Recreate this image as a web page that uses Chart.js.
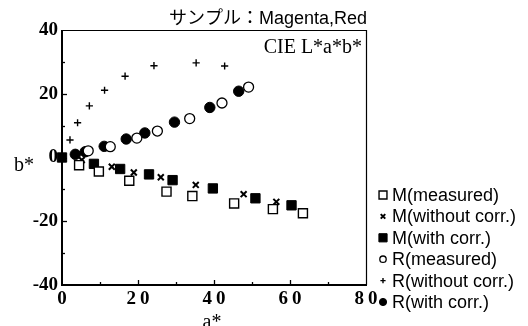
<!DOCTYPE html>
<html lang="ja">
<head>
<meta charset="UTF-8">
<title>CIE L*a*b* - Magenta, Red</title>
<script src="https://cdn.jsdelivr.net/npm/chart.js@4"></script>
<style>
  html, body { margin: 0; padding: 0; background: #fff; }
  #wrap { width: 528px; height: 326px; }
</style>
</head>
<body>
<div id="wrap"><canvas id="chart" width="528" height="326"></canvas></div>
<script>
// values (a*, b*)
const mMeasuredA = [4.5, 9.7, 17.7, 27.5, 34.3, 45.3, 55.5, 63.4];
const mMeasuredB = [-2.4, -4.4, -7.3, -10.7, -12.1, -14.4, -16.2, -17.5];
const mWithoutA = [5.2, 13.1, 18.9, 26.0, 35.2, 47.8, 56.4];
const mWithoutB = [-0.8, -2.9, -4.7, -6.2, -8.6, -11.5, -13.9];
const mWithA = [0, 8.4, 15.3, 22.9, 29.1, 39.7, 50.9, 60.4];
const mWithB = [0, -2.0, -3.6, -5.3, -7.1, -9.7, -12.8, -15.0];
const rMeasuredA = [6.9, 12.7, 19.7, 25.1, 33.6, 42.1, 49.1];
const rMeasuredB = [2.1, 3.4, 6.1, 8.3, 12.2, 17.1, 22.1];
const rWithoutA = [2.1, 4.1, 7.2, 11.2, 16.6, 24.2, 35.3, 42.8];
const rWithoutB = [5.5, 10.9, 16.2, 21.1, 25.5, 28.8, 29.7, 28.7];
const rWithA = [3.5, 6.1, 11.1, 16.9, 21.8, 29.6, 38.9, 46.5];
const rWithB = [1.0, 1.8, 3.5, 5.8, 7.7, 11.1, 15.7, 20.8];

const seriesNames = ['M(measured)', 'M(without corr.)', 'M(with corr.)', 'R(measured)', 'R(without corr.)', 'R(with corr.)'];
const xTicks = [0, 20, 40, 60, 80];
const yTicks = [-40, -20, 0, 20, 40];
const titleText = 'サンプル：Magenta,Red';
const spaceText = 'CIE L*a*b*';

const pts = (a, b) => a.map((v, i) => ({ x: v, y: b[i] }));

// marker look: [pointStyle, radius, fill, borderWidth, legend radius]
const looks = [
  ['rect', 6.4, '#fff', 1.4, 5.6],
  ['crossRot', 4.2, '#000', 2, 3.2],
  ['rect', 6.6, '#000', 1, 5.8],
  ['circle', 5, '#fff', 1.3, 3.2],
  ['cross', 3.6, '#000', 1.4, 2.6],
  ['circle', 5.2, '#000', 1, 3.6]
];
const allData = [
  pts(mMeasuredA, mMeasuredB), pts(mWithoutA, mWithoutB), pts(mWithA, mWithB),
  pts(rMeasuredA, rMeasuredB), pts(rWithoutA, rWithoutB), pts(rWithA, rWithB)
];

const datasets = seriesNames.map((name, i) => ({
  label: name,
  data: allData[i],
  pointStyle: looks[i][0],
  pointRadius: looks[i][1],
  pointBackgroundColor: looks[i][2],
  pointBorderColor: '#000',
  pointBorderWidth: looks[i][3],
  showLine: false,
  clip: false
}));

const L = 62, R = 366, T = 30, B = 285;

const decor = {
  id: 'decor',
  afterDraw(chart) {
    const ctx = chart.ctx;
    const xs = chart.scales.x, ys = chart.scales.y;
    ctx.save();
    ctx.strokeStyle = '#000';
    // frame
    ctx.lineWidth = 1.2;
    ctx.beginPath();
    ctx.moveTo(L, T + 0.5); ctx.lineTo(R + 0.5, T + 0.5); ctx.lineTo(R + 0.5, B);
    ctx.stroke();
    ctx.lineWidth = 2;
    ctx.beginPath();
    ctx.moveTo(L, T); ctx.lineTo(L, B); ctx.lineTo(R + 1, B);
    ctx.stroke();
    // inward ticks every 10
    ctx.lineWidth = 1.3;
    for (let v = 10; v < 80; v += 10) {
      const px = Math.round(xs.getPixelForValue(v)) + 0.5;
      const len = v % 20 === 0 ? 5 : 3;
      ctx.beginPath(); ctx.moveTo(px, B); ctx.lineTo(px, B - len); ctx.stroke();
    }
    for (let v = -30; v < 40; v += 10) {
      const py = Math.round(ys.getPixelForValue(v)) + 0.5;
      const len = v % 20 === 0 ? 5 : 3;
      ctx.beginPath(); ctx.moveTo(L, py); ctx.lineTo(L + len, py); ctx.stroke();
    }
    // texts
    ctx.fillStyle = '#000';
    ctx.textAlign = 'right';
    ctx.textBaseline = 'middle';
    ctx.font = '18px "Liberation Sans", "Noto Sans CJK JP", sans-serif';
    ctx.fillText(titleText, 367, 19);
    ctx.font = '20px "Liberation Serif", serif';
    ctx.fillText(spaceText, 362, 48);
    ctx.textAlign = 'center';
    ctx.fillText('b*', 24, 166);
    ctx.textBaseline = 'alphabetic';
    ctx.fillText('a*', 212, 328);
    // legend
    ctx.textAlign = 'left';
    ctx.textBaseline = 'middle';
    ctx.font = '18px "Liberation Sans", sans-serif';
    seriesNames.forEach((name, i) => {
      const y = 195 + i * 21.4;
      ctx.fillStyle = looks[i][2];
      ctx.strokeStyle = '#000';
      ctx.lineWidth = looks[i][3];
      Chart.helpers.drawPoint(ctx, {
        pointStyle: looks[i][0], radius: looks[i][4], rotation: 0,
        borderWidth: looks[i][3]
      }, 383, y);
      ctx.fillStyle = '#000';
      ctx.fillText(name, 392, y + 1);
    });
    ctx.restore();
  }
};

new Chart(document.getElementById('chart'), {
  type: 'scatter',
  data: { datasets },
  options: {
    responsive: false,
    animation: false,
    devicePixelRatio: 1,
    layout: { padding: { left: 0, right: 528 - R, top: T, bottom: 0 } },
    plugins: { legend: { display: false }, tooltip: { enabled: false } },
    scales: {
      x: {
        type: 'linear', min: 0, max: 80,
        afterFit: s => { s.height = 326 - B; },
        afterBuildTicks: s => { s.ticks = xTicks.map(v => ({ value: v })); },
        grid: { display: false, drawTicks: false },
        border: { display: false },
        ticks: {
          padding: 3, color: '#000', autoSkip: false, maxRotation: 0,
          font: { family: '"Liberation Serif", serif', size: 19, weight: 'bold' },
          callback: v => String(v).split('').join('\u2009')
        }
      },
      y: {
        type: 'linear', min: -40, max: 40,
        afterFit: s => { s.width = L; },
        afterBuildTicks: s => { s.ticks = yTicks.map(v => ({ value: v })); },
        grid: { display: false, drawTicks: false },
        border: { display: false },
        ticks: {
          padding: 4, color: '#000', autoSkip: false,
          font: { family: '"Liberation Serif", serif', size: 19, weight: 'bold' }
        }
      }
    }
  },
  plugins: [decor]
});
</script>
</body>
</html>
